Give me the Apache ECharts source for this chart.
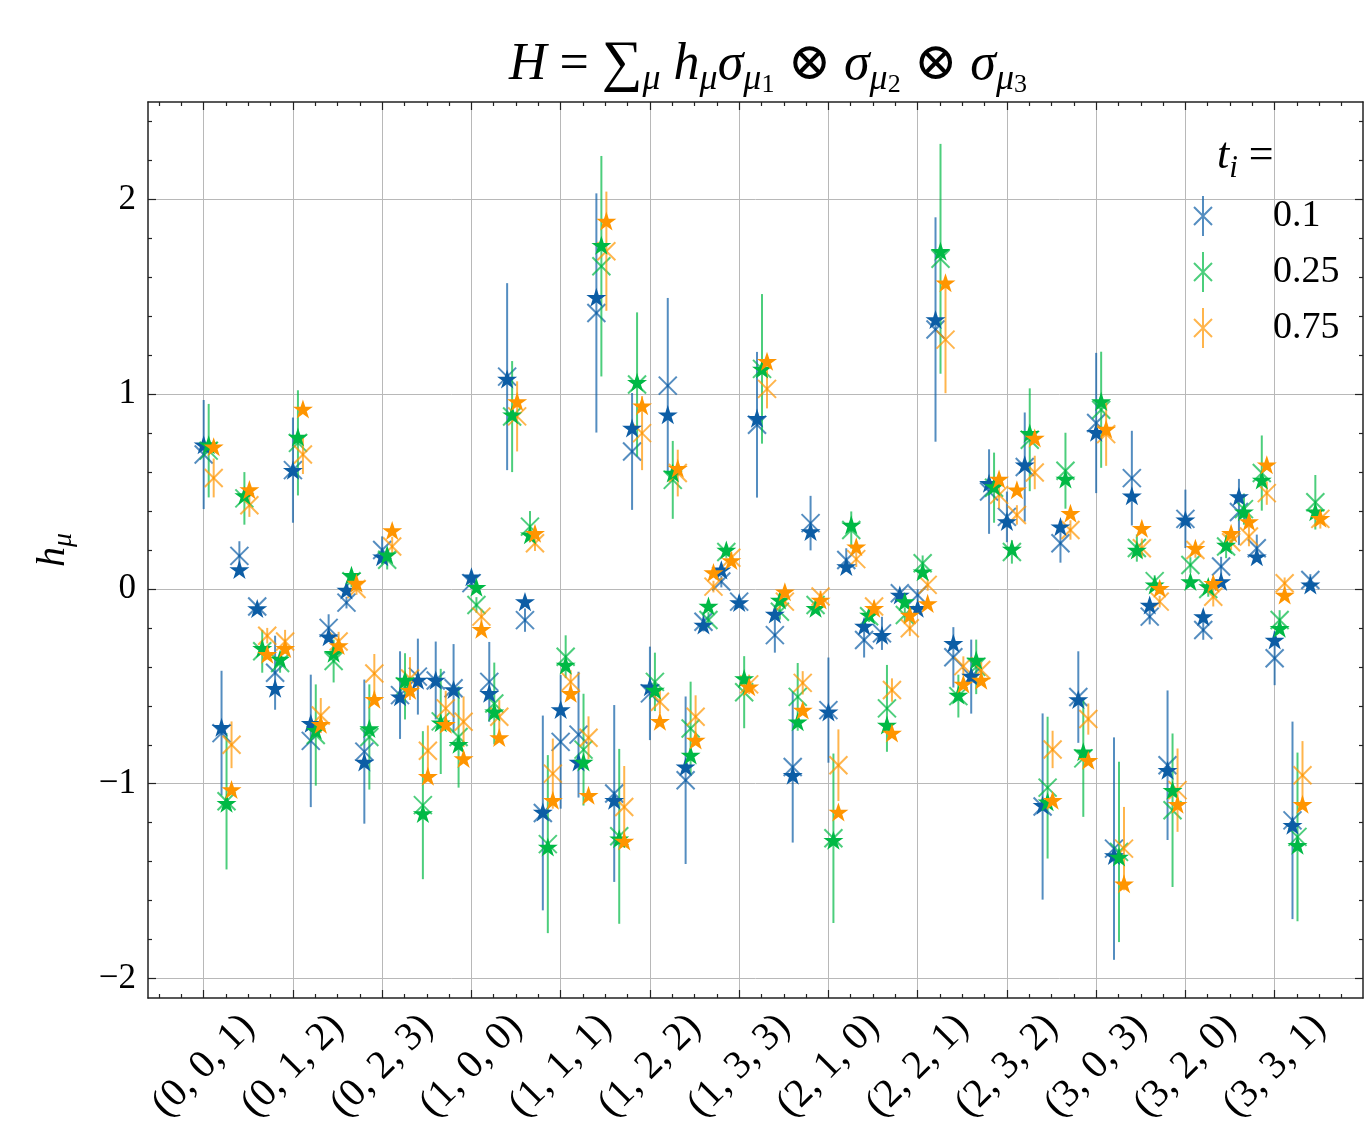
<!DOCTYPE html>
<html>
<head>
<meta charset="utf-8">
<script src="https://cdn.jsdelivr.net/npm/echarts@6/dist/echarts.min.js"></script>
<style>
    html, body { margin: 0; padding: 0; background: #fff; }
    #chart { width: 1364px; height: 1125px; }
</style>
</head>
<body>
<div id="chart"></div>
<script>
// tick labels on the x axis, one every 5 coefficients
const tickValues = [0, 5, 10, 15, 20, 25, 30, 35, 40, 45, 50, 55, 60]
const tickLabels = ['(0, 0, 1)', '(0, 1, 2)', '(0, 2, 3)', '(1, 0, 0)', '(1, 1, 1)', '(1, 2, 2)', '(1, 3, 3)',
    '(2, 1, 0)', '(2, 2, 1)', '(2, 3, 2)', '(3, 0, 3)', '(3, 2, 0)', '(3, 3, 1)']
const yTicks = [-2, -1, 0, 1, 2]
const tNames = ['0.1', '0.25', '0.75']

// t = 0.1 : estimate (x marker), error bar half length, exact value (star)
const estT01 = [0.69, -0.74, 0.17, -0.09, -0.43, 0.61, -0.78, -0.20, -0.07, -0.835, 0.20, -0.545, -0.45, -0.47, -0.51, 0.03,
    -0.477, 1.09, -0.16, -1.15, -0.785, -0.748, 1.417, -1.05, 0.706, -0.536, 1.044, -0.982, -0.168, 0.038, -0.065, 0.843,
    -0.237, -0.914, 0.338, -0.622, 0.149, -0.262, -0.228, -0.022, -0.031, 1.332, -0.351, -0.45, 0.50, 0.37, 0.626, -1.117,
    0.235, -0.555, 0.852, -1.333, 0.569, -0.142, -0.905, 0.36, -0.211, 0.115, 0.395, 0.209, -0.356, -1.188, 0.046]
const errT01 = [0.28, 0.32, 0.075, 0.02, 0.19, 0.27, 0.34, 0.07, 0.03, 0.37, 0.07, 0.225, 0.195, 0.20, 0.227, 0.03,
    0.205, 0.48, 0.06, 0.50, 0.343, 0.323, 0.614, 0.454, 0.30, 0.24, 0.45, 0.43, 0.05, 0.03, 0.03, 0.374,
    0.09, 0.388, 0.14, 0.27, 0.06, 0.09, 0.085, 0.02, 0.03, 0.576, 0.155, 0.19, 0.217, 0.13, 0.28, 0.478,
    0.10, 0.235, 0.36, 0.571, 0.243, 0.04, 0.384, 0.15, 0.05, 0.05, 0.17, 0.07, 0.138, 0.507, 0.03]
const exactT01 = [0.74, -0.71, 0.10, -0.10, -0.51, 0.61, -0.69, -0.245, -0.005, -0.888, 0.166, -0.553, -0.468, -0.468, -0.516, 0.063,
    -0.536, 1.078, -0.065, -1.145, -0.619, -0.888, 1.498, -1.085, 0.826, -0.502, 0.895, -0.913, -0.185, 0.098, -0.07, 0.877,
    -0.129, -0.956, 0.295, -0.631, 0.115, -0.19, -0.237, -0.031, -0.099, 1.383, -0.279, -0.447, 0.543, 0.346, 0.638, -1.11,
    0.32, -0.567, 0.804, -1.368, 0.478, -0.082, -0.931, 0.355, -0.142, 0.038, 0.475, 0.166, -0.262, -1.213, 0.021]

// t = 0.25
const estT025 = [0.71, -1.09, 0.465, -0.32, -0.38, 0.75, -0.75, -0.37, 0.04, -0.76, 0.15, -0.50, -1.11, -0.68, -0.76, -0.082,
    -0.588, 0.885, 0.32, -1.31, -0.348, -0.825, 1.657, -1.27, 1.05, -0.477, 0.56, -0.716, -0.159, 0.19, -0.53, 1.13,
    -0.117, -0.554, -0.082, -1.28, 0.303, -0.14, -0.613, -0.134, 0.132, 1.695, -0.55, -0.40, 0.52, 0.19, 0.766, -1.02,
    0.607, -0.87, 0.92, -1.35, 0.21, 0.04, -1.136, 0.123, 0.0, 0.218, 0.41, 0.595, -0.159, -1.273, 0.445]
const errT025 = [0.24, 0.35, 0.135, 0.11, 0.05, 0.27, 0.26, 0.11, 0.03, 0.27, 0.05, 0.17, 0.38, 0.27, 0.26, 0.04,
    0.21, 0.285, 0.08, 0.457, 0.11, 0.287, 0.566, 0.449, 0.37, 0.15, 0.20, 0.24, 0.04, 0.03, 0.185, 0.384,
    0.04, 0.174, 0.03, 0.435, 0.095, 0.03, 0.223, 0.04, 0.04, 0.59, 0.11, 0.14, 0.18, 0.06, 0.264, 0.364,
    0.195, 0.30, 0.298, 0.463, 0.07, 0.03, 0.394, 0.04, 0.04, 0.06, 0.08, 0.193, 0.05, 0.433, 0.14]
const exactT025 = [0.74, -1.10, 0.48, -0.305, -0.36, 0.78, -0.725, -0.33, 0.07, -0.716, 0.175, -0.468, -1.153, -0.687, -0.797, 0.009,
    -0.631, 0.895, 0.278, -1.325, -0.391, -0.888, 1.764, -1.282, 1.061, -0.519, 0.595, -0.853, -0.087, 0.20, -0.46, 1.129,
    -0.057, -0.682, -0.099, -1.29, 0.329, -0.134, -0.699, -0.065, 0.089, 1.734, -0.545, -0.365, 0.526, 0.205, 0.80, -1.093,
    0.564, -0.836, 0.963, -1.376, 0.20, 0.021, -1.033, 0.038, 0.012, 0.226, 0.397, 0.56, -0.202, -1.316, 0.397]

// t = 0.75
const estT075 = [0.57, -0.80, 0.43, -0.24, -0.27, 0.69, -0.65, -0.27, 0.00, -0.434, 0.218, -0.46, -0.831, -0.613, -0.682, -0.142,
    -0.656, 0.886, 0.235, -0.948, -0.477, -0.764, 1.734, -1.119, 0.80, -0.579, 0.595, -0.656, 0.012, 0.16, -0.49, 1.027,
    -0.065, -0.482, -0.039, -0.905, 0.153, -0.09, -0.519, -0.202, 0.021, 1.28, -0.396, -0.416, 0.483, 0.38, 0.598, -0.824,
    0.303, -0.668, 0.795, -1.333, 0.209, -0.065, -1.033, 0.20, -0.04, 0.24, 0.269, 0.492, 0.029, -0.956, 0.36]
const errT075 = [0.10, 0.12, 0.06, 0.04, 0.06, 0.10, 0.09, 0.05, 0.03, 0.10, 0.05, 0.11, 0.13, 0.09, 0.13, 0.04,
    0.085, 0.18, 0.04, 0.18, 0.06, 0.11, 0.306, 0.21, 0.19, 0.06, 0.12, 0.11, 0.03, 0.03, 0.05, 0.10,
    0.03, 0.06, 0.03, 0.184, 0.04, 0.03, 0.06, 0.04, 0.03, 0.275, 0.05, 0.04, 0.07, 0.05, 0.086, 0.096,
    0.05, 0.08, 0.163, 0.214, 0.05, 0.03, 0.214, 0.04, 0.05, 0.04, 0.05, 0.06, 0.03, 0.175, 0.05]
const exactT075 = [0.73, -1.03, 0.51, -0.335, -0.305, 0.924, -0.695, -0.29, 0.03, -0.566, 0.30, -0.52, -0.961, -0.694, -0.87, -0.207,
    -0.763, 0.963, 0.286, -1.085, -0.536, -1.059, 1.889, -1.294, 0.941, -0.679, 0.62, -0.776, 0.084, 0.146, -0.502, 1.169,
    -0.014, -0.622, -0.057, -1.145, 0.217, -0.099, -0.739, -0.134, -0.074, 1.572, -0.488, -0.468, 0.564, 0.509, 0.775, -1.085,
    0.389, -0.879, 0.821, -1.513, 0.312, 0.004, -1.105, 0.209, 0.029, 0.286, 0.346, 0.638, -0.031, -1.105, 0.363]

const estimates = [estT01, estT025, estT075]
const errors = [errT01, errT025, errT075]
const exacts = [exactT01, exactT025, exactT075]
const colorList = ['#0C5DA5', '#00B945', '#FF9500']
const xShift = [0, 0.28, 0.56]

const serif = "'Liberation Serif', 'DejaVu Serif', serif"
const xMin = -3.12, xMax = 64.95
const yMin = -2.1, yMax = 2.5

// minor tick positions
let xMinor = []
for (let k = -2; k <= 51; k++) {
    if (k % 4 !== 0) xMinor.push(k * 1.25)
}
let yMinor = []
for (let k = -10; k <= 12; k++) {
    if (k % 5 !== 0) yMinor.push(+(k * 0.2).toFixed(1))
}

// matplotlib '*' marker
function starSymbol() {
    let d = ''
    for (let k = 0; k < 10; k++) {
        const r = k % 2 ? 3.82 : 10
        const a = -Math.PI / 2 + k * Math.PI / 5
        d += (k ? 'L' : 'M') + (r * Math.cos(a)).toFixed(2) + ',' + (r * Math.sin(a)).toFixed(2)
    }
    return 'path://' + d + 'Z'
}

// rich text styles for the TeX-like labels
function mathRich(size) {
    const lh = Math.round(size * 1.25)
    return {
        it: {fontFamily: serif, fontStyle: 'italic', fontWeight: 'normal', fontSize: size, lineHeight: lh, color: '#000'},
        n: {fontFamily: serif, fontWeight: 'normal', fontSize: size, lineHeight: lh, color: '#000'},
        sum: {fontFamily: serif, fontWeight: 'normal', fontSize: Math.round(size * 1.1), lineHeight: lh, color: '#000'},
        sub: {fontFamily: serif, fontStyle: 'italic', fontWeight: 'normal', fontSize: Math.round(size * 0.7),
            lineHeight: Math.round(size * 0.62), verticalAlign: 'bottom', color: '#000'},
        sub2: {fontFamily: serif, fontWeight: 'normal', fontSize: Math.round(size * 0.5),
            lineHeight: Math.round(size * 0.3), verticalAlign: 'bottom', color: '#000'}
    }
}

function majorX(position, withLabel) {
    return {
        type: 'value', min: xMin, max: xMax, position: position,
        axisLine: {show: true, onZero: false, lineStyle: {color: '#222', width: 1.5}},
        axisTick: {show: true, inside: true, length: 8, customValues: tickValues, lineStyle: {color: '#222', width: 1.2}},
        axisLabel: withLabel ? {
            show: true, customValues: tickValues, rotate: 45, align: 'center', verticalAlign: 'middle', margin: 68,
            fontFamily: serif, fontSize: 40, color: '#000',
            formatter: v => tickLabels[Math.round(v / 5)]
        } : {show: false},
        splitLine: {show: withLabel, lineStyle: {color: '#b8b8b8', width: 1}}
    }
}
function minorX(position) {
    return {
        type: 'value', min: xMin, max: xMax, position: position,
        axisLine: {show: false, onZero: false},
        axisTick: {show: true, inside: true, length: 4, customValues: xMinor, lineStyle: {color: '#222', width: 1.2}},
        axisLabel: {show: false},
        splitLine: {show: false}
    }
}
function majorY(position, withLabel) {
    return {
        type: 'value', min: yMin, max: yMax, position: position,
        axisLine: {show: true, onZero: false, lineStyle: {color: '#222', width: 1.5}},
        axisTick: {show: true, inside: true, length: 8, customValues: yTicks, lineStyle: {color: '#222', width: 1.2}},
        axisLabel: withLabel ? {
            show: true, customValues: yTicks, margin: 12, fontFamily: serif, fontSize: 35, color: '#000',
            formatter: v => v < 0 ? '\u2212' + Math.abs(v) : String(v)
        } : {show: false},
        splitLine: {show: withLabel, lineStyle: {color: '#b8b8b8', width: 1}}
    }
}
function minorY(position) {
    return {
        type: 'value', min: yMin, max: yMax, position: position,
        axisLine: {show: false, onZero: false},
        axisTick: {show: true, inside: true, length: 4, customValues: yMinor, lineStyle: {color: '#222', width: 1.2}},
        axisLabel: {show: false},
        splitLine: {show: false}
    }
}

let yMain = majorY('left', true)
yMain.name = '{it|h}{sub|\u03bc}'
yMain.nameLocation = 'middle'
yMain.nameRotate = 90
yMain.nameGap = 70
yMain.nameTextStyle = {rich: mathRich(40)}

let series = []
tNames.forEach((t, k) => {
    const color = colorList[k]
    series.push({
        name: t,
        type: 'custom',
        silent: true,
        itemStyle: {color: color},
        data: estimates[k].map((v, i) => [i + xShift[k], v, errors[k][i]]),
        renderItem: function (params, api) {
            const x = api.value(0), y = api.value(1), e = api.value(2)
            const top = api.coord([x, y + e])
            const bot = api.coord([x, y - e])
            const c = api.coord([x, y])
            const h = 9
            const st = {stroke: color, lineWidth: 2, opacity: 0.7}
            return {
                type: 'group',
                children: [
                    {type: 'line', shape: {x1: top[0], y1: top[1], x2: bot[0], y2: bot[1]}, style: st},
                    {type: 'line', shape: {x1: c[0] - h, y1: c[1] - h, x2: c[0] + h, y2: c[1] + h}, style: st},
                    {type: 'line', shape: {x1: c[0] - h, y1: c[1] + h, x2: c[0] + h, y2: c[1] - h}, style: st}
                ]
            }
        }
    })
    series.push({
        name: t + ' exact',
        type: 'scatter',
        silent: true,
        symbol: starSymbol(),
        symbolKeepAspect: true,
        symbolSize: 20,
        itemStyle: {color: color, opacity: 1},
        data: exacts[k].map((v, i) => [i + xShift[k], v])
    })
})

const legendIcon = 'path://M9,0L9,40M0,11L18,29M18,11L0,29'

let option = {
    animation: false,
    backgroundColor: '#fff',
    title: [
        {
            text: '{it|H}{n| = }{sum|\u2211}{sub|\u03bc}{n| }{it|h}{sub|\u03bc}{it|\u03c3}{sub|\u03bc}{sub2|1}{n| \u2297 }{it|\u03c3}{sub|\u03bc}{sub2|2}{n| \u2297 }{it|\u03c3}{sub|\u03bc}{sub2|3}',
            left: 763, top: 28, textAlign: 'center',
            textStyle: {fontWeight: 'normal', rich: mathRich(52)}
        },
        {
            text: '{it|t}{sub|i}{n| =}',
            left: 1212, top: 124,
            textStyle: {fontWeight: 'normal', rich: mathRich(44)}
        }
    ],
    legend: {
        orient: 'vertical',
        left: 1188, top: 190,
        itemWidth: 18, itemHeight: 40, itemGap: 14,
        selectedMode: false,
        data: tNames.map((t, k) => ({
            name: t, icon: legendIcon,
            itemStyle: {color: 'transparent', borderColor: colorList[k], borderWidth: 2, opacity: 0.7}
        })),
        formatter: '{v|{name}}',
        textStyle: {
            rich: {v: {fontFamily: serif, fontSize: 38, lineHeight: 40, color: '#000', padding: [0, 0, 0, 56]}}
        }
    },
    grid: {left: 148, right: 1, top: 102, bottom: 127, outerBoundsMode: 'none'},
    xAxis: [majorX('bottom', true), minorX('bottom'), majorX('top', false), minorX('top')],
    yAxis: [yMain, minorY('left'), majorY('right', false), minorY('right')],
    series: series
}

let myChart = echarts.init(document.getElementById('chart'))
myChart.setOption(option)
</script>
</body>
</html>
